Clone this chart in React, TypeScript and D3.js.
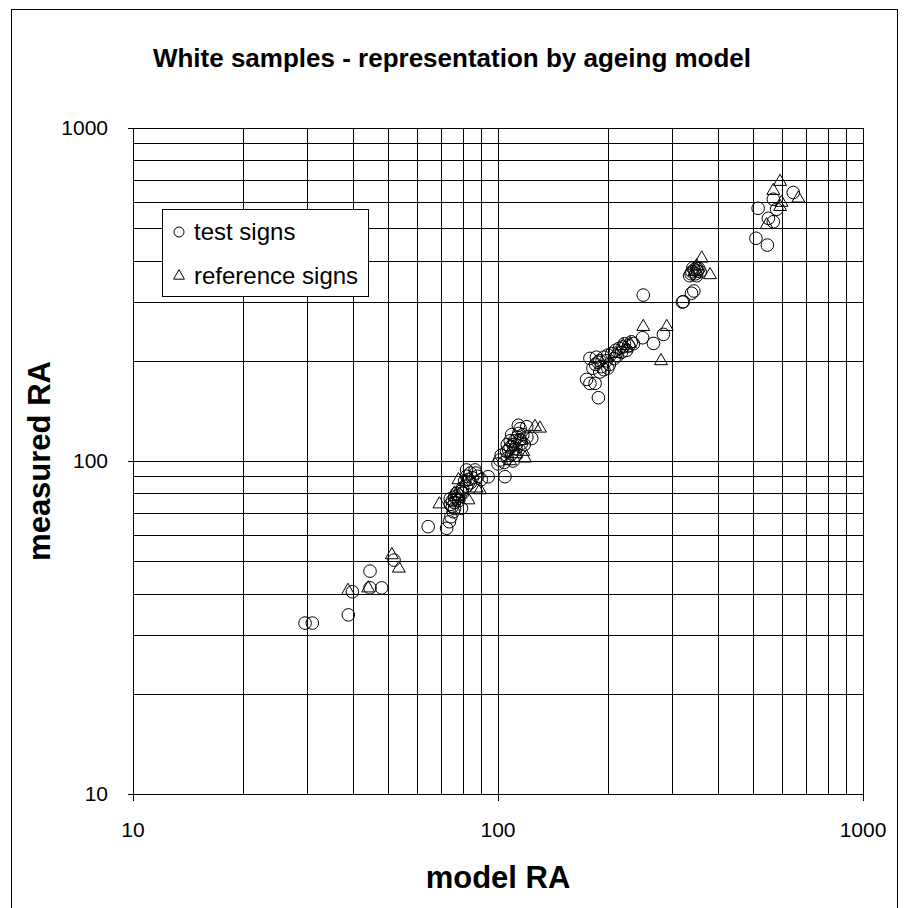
import React, { useEffect, useRef } from "react";
import * as d3 from "d3";

// model RA vs measured RA, test signs (circles)
const testSigns: [number, number][] = [
  [29.6, 32.6], [31.0, 32.6], [38.9, 34.5], [39.9, 40.5], [44.6, 46.7], [44.6, 41.6], [48.0, 41.6], [51.9, 50.4],
  [64.4, 63.5], [72.3, 62.8], [73.6, 65.7], [74.3, 68.0], [75.4, 70.4], [79.4, 72.1],
  [74, 74], [75, 76], [76, 75], [77, 77], [75, 73], [76, 78], [78, 79], [77, 80], [79, 81], [80, 80],
  [78, 76], [76, 72], [74, 77], [80, 83], [82, 84],
  [81, 87], [82, 90], [83, 88], [84, 92], [85, 89], [82, 94], [86.5, 94], [88, 90], [87, 92], [84, 86], [90, 88], [94, 89.7],
  [104.5, 89.7], [101.2, 100.7], [105.6, 106.7], [100, 98], [102, 104],
  [104, 99], [106, 102], [107, 108], [108, 110], [109, 105], [110, 112], [111, 115], [112, 109], [113, 118],
  [114, 121], [115, 116], [116, 113], [117, 120], [110, 100], [112, 104], [108, 115], [106, 112], [118, 112],
  [120, 118], [113.7, 128], [119.9, 126.8], [123.7, 116.9], [109, 120], [115, 125],
  [178.6, 203.3], [174.9, 175.8], [178.6, 171], [184.5, 171], [188.4, 154.9],
  [182, 190], [185, 195], [188, 198], [190, 200], [192, 192], [195, 205], [198, 200], [200, 208], [202, 195],
  [205, 210], [208, 203], [210, 215], [212, 207], [215, 218], [218, 212], [220, 220], [222, 225], [225, 215],
  [228, 222], [232, 228], [235, 225], [190, 185], [195, 188], [200, 190], [186, 205],
  [250, 315], [249, 234.5], [266.6, 225.5], [284, 240], [320, 300], [322, 301],
  [339, 319], [344, 324], [335, 360], [340, 370], [345, 375], [348, 365], [350, 380], [352, 372], [355, 378],
  [358, 370], [342, 380], [338, 365], [350, 360],
  [644, 640], [568, 611], [580, 570], [516, 574], [550.5, 535.5], [568, 523], [509, 466.5], [547, 445],
];

// reference signs (triangles)
const referenceSigns: [number, number][] = [
  [38.8, 40.8], [44.1, 41.5], [51.2, 52.2], [53.5, 47.6],
  [69.1, 74.2], [83.0, 76.3], [78, 78], [76, 80], [77.9, 87.7], [81.2, 86.7], [87.4, 82.8], [89.3, 81.8],
  [117.3, 106.7], [118.6, 101.9], [126.3, 126.8], [130.3, 125.3], [110, 110], [112, 105], [108, 100], [115, 115],
  [220, 222], [225, 218], [210, 210], [230, 225], [250, 253], [290, 253], [279.6, 199.7],
  [361.5, 406], [381, 362], [350, 385], [345, 370],
  [592.6, 690], [568, 648], [665, 615], [598, 597], [592.6, 580], [544.5, 511.7],
];

const majorTicks = [10, 100, 1000];
const gridValues = [20, 30, 40, 50, 60, 70, 80, 90, 100, 200, 300, 400, 500, 600, 700, 800, 900, 1000];
const legendItems = ["test signs", "reference signs"];

const W = 905;
const H = 908;
const FONT = "Arial, 'Liberation Sans', sans-serif";

export default function App() {
  const svgRef = useRef<SVGSVGElement>(null);

  useEffect(() => {
    if (!svgRef.current) return;
    const svg = d3.select(svgRef.current);
    svg.selectAll("*").remove();

    const x = d3.scaleLog().domain([10, 1000]).range([133, 863]);
    const y = d3.scaleLog().domain([10, 1000]).range([794, 128]);
    const px = (v: number) => Math.round(x(v)) + 0.5;
    const py = (v: number) => Math.round(y(v)) + 0.5;

    // outer chart border
    svg.append("rect")
      .attr("x", 11.5).attr("y", 9.5)
      .attr("width", 886).attr("height", 910)
      .attr("fill", "#fff").attr("stroke", "#000").attr("stroke-width", 1);

    svg.append("text")
      .attr("x", 452).attr("y", 67)
      .attr("text-anchor", "middle")
      .attr("font-family", FONT).attr("font-weight", "bold").attr("font-size", 26)
      .text("White samples - representation by ageing model");

    const grid = svg.append("g").attr("stroke", "#000").attr("stroke-width", 1).attr("shape-rendering", "crispEdges");
    gridValues.forEach(v => {
      grid.append("line").attr("x1", px(v)).attr("x2", px(v)).attr("y1", py(10)).attr("y2", py(1000));
      grid.append("line").attr("x1", px(10)).attr("x2", px(1000)).attr("y1", py(v)).attr("y2", py(v));
    });
    // axes
    grid.append("line").attr("x1", px(10)).attr("x2", px(10)).attr("y1", py(10)).attr("y2", py(1000));
    grid.append("line").attr("x1", px(10)).attr("x2", px(1000)).attr("y1", py(10)).attr("y2", py(10));
    majorTicks.forEach(v => {
      grid.append("line").attr("x1", px(10) - 6).attr("x2", px(10)).attr("y1", py(v)).attr("y2", py(v));
      grid.append("line").attr("x1", px(v)).attr("x2", px(v)).attr("y1", py(10)).attr("y2", py(10) + 6);
    });

    const labels = svg.append("g").attr("font-family", FONT).attr("font-size", 21);
    majorTicks.forEach(v => {
      labels.append("text")
        .attr("x", x(10) - 25).attr("y", y(v)).attr("dy", "0.35em")
        .attr("text-anchor", "end").text(String(v));
      labels.append("text")
        .attr("x", x(v)).attr("y", y(10) + 43)
        .attr("text-anchor", "middle").text(String(v));
    });

    svg.append("text")
      .attr("x", 498).attr("y", 888)
      .attr("text-anchor", "middle")
      .attr("font-family", FONT).attr("font-weight", "bold").attr("font-size", 31)
      .text("model RA");
    svg.append("text")
      .attr("transform", `translate(50,${(y(10) + y(1000)) / 2}) rotate(-90)`)
      .attr("text-anchor", "middle")
      .attr("font-family", FONT).attr("font-weight", "bold").attr("font-size", 31)
      .text("measured RA");

    const tri = d3.symbol().type(d3.symbolTriangle).size(72);

    svg.append("g").selectAll("circle")
      .data(testSigns).enter().append("circle")
      .attr("cx", d => x(d[0])).attr("cy", d => y(d[1])).attr("r", 6.3)
      .attr("fill", "none").attr("stroke", "#000").attr("stroke-width", 1);

    svg.append("g").selectAll("path")
      .data(referenceSigns).enter().append("path")
      .attr("d", tri)
      .attr("transform", d => `translate(${x(d[0])},${y(d[1])})`)
      .attr("fill", "none").attr("stroke", "#000").attr("stroke-width", 1);

    // legend
    const lg = svg.append("g");
    lg.append("rect")
      .attr("x", 162.5).attr("y", 209.5).attr("width", 206).attr("height", 87)
      .attr("fill", "#fff").attr("stroke", "#000").attr("stroke-width", 1);
    legendItems.forEach((name, i) => {
      const cy = 232 + i * 44;
      if (i === 0) {
        lg.append("circle").attr("cx", 179).attr("cy", cy).attr("r", 5)
          .attr("fill", "none").attr("stroke", "#000");
      } else {
        lg.append("path").attr("d", d3.symbol().type(d3.symbolTriangle).size(52)())
          .attr("transform", `translate(179,${cy})`)
          .attr("fill", "none").attr("stroke", "#000");
      }
      lg.append("text")
        .attr("x", 194).attr("y", cy).attr("dy", "0.35em")
        .attr("font-family", FONT).attr("font-size", 24)
        .text(name);
    });
  }, []);

  return (
    <div style={{ position: "absolute", left: 0, top: 0 }}>
      <svg ref={svgRef} width={W} height={H} style={{ display: "block", background: "#fff" }} />
    </div>
  );
}
